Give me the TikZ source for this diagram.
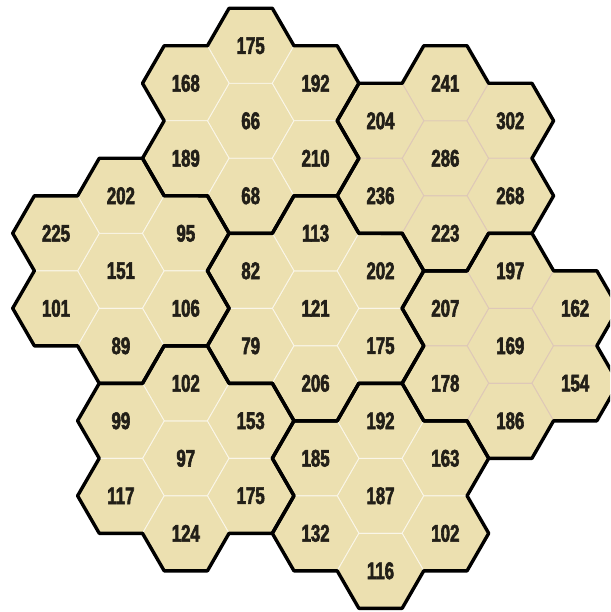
\documentclass[tikz,border=0pt]{standalone}
\usepackage{fontspec}
\newfontfamily\hexfont{Liberation Sans}[FakeStretch=0.7, FakeBold=2.4]
\usetikzlibrary{shapes.geometric}

\definecolor{hexfill}{RGB}{236,224,176}
\definecolor{hexline}{RGB}{250,246,232}
\definecolor{hexlinetan}{RGB}{222,200,184}
\definecolor{hextext}{RGB}{34,31,24}

% outline of a seven-hex flower, from its six outer hexes (UR, U, UL, LL, D, LR)
\newcommand\flower[6]{%
  \draw[rim] (#1.300) -- (#1.0) -- (#1.60) -- (#2.0) -- (#2.60) -- (#2.120)
    -- (#3.60) -- (#3.120) -- (#3.180) -- (#4.120) -- (#4.180) -- (#4.240)
    -- (#5.180) -- (#5.240) -- (#5.300) -- (#6.240) -- (#6.300) -- (#6.0) -- cycle;}

\begin{document}
\begin{tikzpicture}[
  x=1pt, y=-1pt,
  hex/.style={regular polygon, regular polygon sides=6, minimum size=86.6pt, inner sep=0pt, outer sep=0pt,
    draw=hexline, line width=0.9pt, fill=hexfill, text=hextext, font=\hexfont\bfseries\fontsize{24}{24}\selectfont},
  tanhex/.style={hex, draw=hexlinetan},
  rim/.style={draw=black, line width=3.4pt, line join=round, line cap=round},
]
\clip (0,0) rectangle (610,612);
\fill[white] (0,0) rectangle (610,612);

% === Flower around 66 ===
\node[hex] (h-3-1) at (250.7,120.8) {66};
\node[hex] (h-3-0) at (250.7,45.8) {175};
\node[hex] (h-2-0) at (185.8,83.3) {168};
\node[hex] (h-4-0) at (315.6,83.3) {192};
\node[hex] (h-2-1) at (185.8,158.3) {189};
\node[hex] (h-4-1) at (315.6,158.3) {210};
\node[hex] (h-3-2) at (250.7,195.8) {68};

% === Flower around 151 ===
\node[hex] (h-1-3) at (120.9,270.8) {151};
\node[hex] (h-1-2) at (120.9,195.8) {202};
\node[hex] (h-0-2) at (56.0,233.3) {225};
\node[hex] (h-2-2) at (185.8,233.3) {95};
\node[hex] (h-0-3) at (56.0,308.3) {101};
\node[hex] (h-2-3) at (185.8,308.3) {106};
\node[hex] (h-1-4) at (120.9,345.8) {89};

% === Flower around 121 ===
\node[hex] (h-4-3) at (315.6,308.3) {121};
\node[hex] (h-4-2) at (315.6,233.3) {113};
\node[hex] (h-3-3) at (250.7,270.8) {82};
\node[hex] (h-5-3) at (380.5,270.8) {202};
\node[hex] (h-3-4) at (250.7,345.8) {79};
\node[hex] (h-5-4) at (380.5,345.8) {175};
\node[hex] (h-4-4) at (315.6,383.3) {206};

% === Flower around 286 ===
\node[tanhex] (h-6-1) at (445.4,158.3) {286};
\node[tanhex] (h-6-0) at (445.4,83.3) {241};
\node[tanhex] (h-5-1) at (380.5,120.8) {204};
\node[tanhex] (h-7-1) at (510.3,120.8) {302};
\node[tanhex] (h-5-2) at (380.5,195.8) {236};
\node[tanhex] (h-7-2) at (510.3,195.8) {268};
\node[tanhex] (h-6-2) at (445.4,233.3) {223};

% === Flower around 169 ===
\node[tanhex] (h-7-4) at (510.3,345.8) {169};
\node[tanhex] (h-7-3) at (510.3,270.8) {197};
\node[tanhex] (h-6-3) at (445.4,308.3) {207};
\node[tanhex] (h-8-3) at (575.2,308.3) {162};
\node[tanhex] (h-6-4) at (445.4,383.3) {178};
\node[tanhex] (h-8-4) at (575.2,383.3) {154};
\node[tanhex] (h-7-5) at (510.3,420.8) {186};

% === Flower around 97 ===
\node[hex] (h-2-5) at (185.8,458.3) {97};
\node[hex] (h-2-4) at (185.8,383.3) {102};
\node[hex] (h-1-5) at (120.9,420.8) {99};
\node[hex] (h-3-5) at (250.7,420.8) {153};
\node[hex] (h-1-6) at (120.9,495.8) {117};
\node[hex] (h-3-6) at (250.7,495.8) {175};
\node[hex] (h-2-6) at (185.8,533.3) {124};

% === Flower around 187 ===
\node[hex] (h-5-6) at (380.5,495.8) {187};
\node[hex] (h-5-5) at (380.5,420.8) {192};
\node[hex] (h-4-5) at (315.6,458.3) {185};
\node[hex] (h-6-5) at (445.4,458.3) {163};
\node[hex] (h-4-6) at (315.6,533.3) {132};
\node[hex] (h-6-6) at (445.4,533.3) {102};
\node[hex] (h-5-7) at (380.5,570.8) {116};

% === Flower rims ===
\flower{h-4-0}{h-3-0}{h-2-0}{h-2-1}{h-3-2}{h-4-1}
\flower{h-2-2}{h-1-2}{h-0-2}{h-0-3}{h-1-4}{h-2-3}
\flower{h-5-3}{h-4-2}{h-3-3}{h-3-4}{h-4-4}{h-5-4}
\flower{h-7-1}{h-6-0}{h-5-1}{h-5-2}{h-6-2}{h-7-2}
\flower{h-8-3}{h-7-3}{h-6-3}{h-6-4}{h-7-5}{h-8-4}
\flower{h-3-5}{h-2-4}{h-1-5}{h-1-6}{h-2-6}{h-3-6}
\flower{h-6-5}{h-5-5}{h-4-5}{h-4-6}{h-5-7}{h-6-6}

\end{tikzpicture}
\end{document}
